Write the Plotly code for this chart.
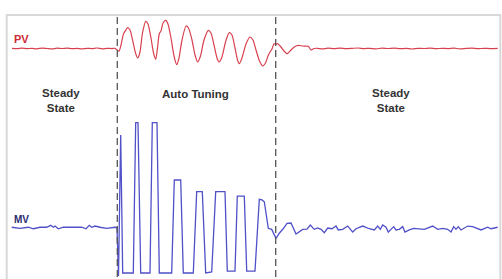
import plotly.graph_objects as go

# ---- data (time in s, PV and MV in %) ----
pv_time = [0, 5, 10, 15, 20, 25, 30, 35, 40, 45, 50, 55, 60, 65, 70, 75, 80, 85, 90, 95, 100, 103,
           105.3, 107, 109, 111.5, 115.7, 118, 121, 123.5, 125.7, 128, 130.5, 133.7, 136, 139, 141.5,
           143.7, 145.5, 147.3, 149, 151, 153.7, 156, 159, 162, 164.7, 167, 170, 174, 176.5, 180,
           183, 185.7, 188.5, 192, 196.3, 199, 202, 205, 207, 210, 213.5, 217.3, 220, 223, 225.5,
           227.3, 230, 234, 238, 241, 244, 247.5, 250.7, 253.5, 256, 258, 260, 262, 263.5, 265.3,
           269, 272, 275.3, 279, 283, 286.3, 291, 296.3, 299, 302, 305.7,
           310, 316, 322, 328, 334, 340, 346, 352, 358, 364, 370, 376, 382, 388, 394, 400, 406,
           412, 418, 424, 430, 436, 442, 448, 454, 460, 466, 472, 478, 485.7]
pv_value = [50.2, 49.8, 50.3, 49.9, 50.1, 49.7, 50.4, 50.0, 49.6, 50.3, 50.0, 50.4, 49.8, 50.1, 49.7,
            50.2, 49.9, 50.5, 49.6, 50.2, 49.9, 50.2,
            48.5, 47.2, 53.5, 64.5, 70.8, 68.5, 56.5, 45.5, 40.5, 46.5, 65.5, 77.2, 74.5, 60.5, 45.5,
            39.2, 50.5, 64.8, 67.5, 75.5, 78.2, 74.5, 60.5, 42.5, 33.8, 40.5, 58.5, 72.5, 70.5, 58.5,
            43.5, 36.5, 42.5, 58.5, 68.2, 65.5, 53.5, 40.5, 36.5, 41.5, 56.5, 65.8, 63.5, 50.5, 38.5,
            34.8, 40.5, 54.5, 61.5, 58.5, 48.5, 37.5, 32.5, 35.5, 42.5, 46.5, 49.5, 54.8, 54.0, 54.8,
            51.5, 47.5, 44.8, 48.5, 52.0, 53.2, 52.5, 52.2, 48.5, 50.0, 50.2,
            49.6, 50.3, 49.9, 50.4, 49.8, 50.1, 50.5, 49.9, 50.2, 49.7, 50.3, 50.0, 50.4, 49.8, 50.1,
            49.5, 50.2, 50.0, 50.4, 49.8, 50.2, 49.9, 50.3, 49.7, 50.1, 50.4, 49.8, 50.2, 49.9, 50.1]

mv_time = [-0.3, 8, 16.3, 21.3, 28, 34.7, 38.7, 41.3, 43, 46.3, 51.3, 61.3, 69.7, 74, 77.3, 79.7, 83,
           88, 94.7, 103,
           105, 106.5, 108.7, 110.7, 121.3, 123.7, 126, 128.7, 138, 140.3, 145, 147.3, 159.7, 162.3,
           168.7, 171.3, 181.3, 184.7, 190.3, 193.7, 199.7, 203.7, 213, 215.3, 223, 225.3, 232.3,
           234.7, 243, 247.3, 250, 252.3, 256.3, 259.7, 264, 267.3, 271, 275, 279, 284, 290.7, 295,
           298.3, 302.3,
           305.7, 309, 312.3, 315.7, 320, 324, 326.3, 330.7, 335.7, 340.7, 344, 350.7, 357.3, 362.3,
           365.7, 368.3, 370.7, 374, 376.3, 379, 381.7, 384, 387.3, 390.7, 393, 397.3, 401.7, 412.3,
           420.7, 425.7, 430.7, 435.7, 439, 441.7, 444, 446.3, 449, 455.7, 460.7, 469, 475.7, 479,
           485.7]
mv_value = [30.5, 29.8, 30.5, 29.5, 30.5, 30.5, 31.8, 30.5, 31.3, 29.5, 30.5, 30.5, 30.5, 29.5, 31.8,
            30.5, 31.3, 30.5, 29.8, 30.5,
            30.3, -2, 92, 0, 0, 100.3, 100.3, 0, 0, 100.3, 100.3, 0, 0, 62,
            62, 0, 0, 54.2, 54.2, 0, 0.7, 54.2, 54.2, 1.3, 1.3, 51.3, 51.3,
            1.3, 1.3, 49.1, 48.7, 47.5, 29.8, 29.1, 23.1, 26.5, 29.3, 33.1, 33.3, 26.0, 29.1, 29.3,
            32.0, 29.1,
            30.0, 29.1, 26.9, 30.0, 29.5, 31.3, 28.7, 29.1, 31.3, 27.3, 29.5, 31.3, 29.5, 28.7,
            31.3, 29.1, 32.0, 30.5, 27.3, 29.1, 30.9, 28.7, 29.1, 30.9, 27.3, 28.7, 29.8, 29.1,
            31.3, 29.1, 29.8, 29.1, 27.3, 30.9, 29.1, 30.9, 28.7, 31.3, 30.9, 28.7, 30.5, 29.5,
            30.5]

phase_bounds = [105.3, 263.7]          # start / end of auto tuning (s)
phase_labels = ["Steady<br>State", "Auto Tuning", "Steady<br>State"]
series_labels = ["PV", "MV"]

W, H = 502, 279
fig = go.Figure()

fig.add_trace(go.Scatter(x=pv_time, y=pv_value, mode="lines", yaxis="y",
                         line=dict(color="#d9404e", width=1.2, shape="spline", smoothing=0.6),
                         hoverinfo="skip", showlegend=False))
fig.add_trace(go.Scatter(x=mv_time, y=mv_value, mode="lines", yaxis="y2",
                         line=dict(color="#5050c8", width=1.3),
                         hoverinfo="skip", showlegend=False))

shapes = []
# light frame
shapes.append(dict(type="rect", xref="paper", yref="paper",
                   x0=6.7 / W, x1=500.3 / W, y0=-0.05, y1=1 - 15 / H,
                   line=dict(color="#d9d9d9", width=2), fillcolor="rgba(0,0,0,0)", layer="below"))
for b in phase_bounds:
    shapes.append(dict(type="line", xref="x", yref="paper", x0=b, x1=b,
                       y0=1 - 277 / H, y1=1 - 15 / H,
                       line=dict(color="#555555", width=1.3, dash="7px,4px")))

font_txt = "Liberation Sans, Arial, sans-serif"
annotations = [
    dict(text="<b>%s</b>" % series_labels[0], xref="paper", yref="paper", x=11.5 / W, y=1 - 39.5 / H,
         xanchor="left", yanchor="middle", showarrow=False,
         font=dict(family=font_txt, size=11, color="#cc2a33")),
    dict(text="<b>%s</b>" % series_labels[1], xref="paper", yref="paper", x=11.5 / W, y=1 - 219.5 / H,
         xanchor="left", yanchor="middle", showarrow=False,
         font=dict(family=font_txt, size=10, color="#2a2a70")),
]
label_pos = [(61.3, 100), (195.7, 93.5), (390.5, 100)]
for lab, (px, py) in zip(phase_labels, label_pos):
    annotations.append(dict(text="<b>%s</b>" % lab, xref="paper", yref="paper",
                            x=px / W, y=1 - py / H, xanchor="center", yanchor="middle",
                            showarrow=False, align="center",
                            font=dict(family=font_txt, size=11.5, color="#333333")))

fig.update_layout(
    width=W, height=H, margin=dict(l=0, r=0, t=0, b=0),
    paper_bgcolor="white", plot_bgcolor="white",
    xaxis=dict(range=[-12, 490], visible=False, fixedrange=True),
    yaxis=dict(range=[-180.5, 98.5], visible=False, fixedrange=True),
    yaxis2=dict(range=[-4, 182], visible=False, overlaying="y", fixedrange=True),
    shapes=shapes, annotations=annotations,
)

fig.write_html("out.html", config={"displayModeBar": False})
